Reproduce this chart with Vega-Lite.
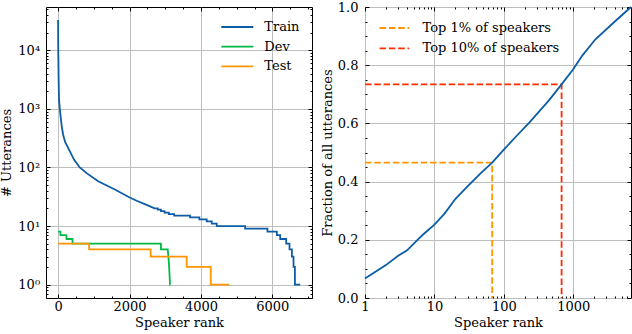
{
  "$schema": "https://vega.github.io/schema/vega-lite/v6.json",
  "background": "white",
  "padding": {"left": 0, "top": 0, "right": 0, "bottom": 0},
  "bounds": "flush",
  "spacing": 53,
  "resolve": {"scale": {"color": "independent"}, "legend": {"color": "independent"}},
  "datasets": {
    "counts": [
      {"set": "Train", "rank": 1, "count": 33000},
      {"set": "Train", "rank": 2, "count": 24000},
      {"set": "Train", "rank": 3, "count": 15000},
      {"set": "Train", "rank": 4, "count": 12500},
      {"set": "Train", "rank": 5, "count": 10500},
      {"set": "Train", "rank": 7, "count": 8000},
      {"set": "Train", "rank": 10, "count": 6000},
      {"set": "Train", "rank": 15, "count": 3500},
      {"set": "Train", "rank": 20, "count": 2200},
      {"set": "Train", "rank": 28, "count": 1400},
      {"set": "Train", "rank": 48, "count": 1000},
      {"set": "Train", "rank": 76, "count": 700},
      {"set": "Train", "rank": 100, "count": 520},
      {"set": "Train", "rank": 140, "count": 366},
      {"set": "Train", "rank": 200, "count": 270},
      {"set": "Train", "rank": 328, "count": 190},
      {"set": "Train", "rank": 450, "count": 135},
      {"set": "Train", "rank": 608, "count": 100},
      {"set": "Train", "rank": 800, "count": 80},
      {"set": "Train", "rank": 1122, "count": 58},
      {"set": "Train", "rank": 1590, "count": 42},
      {"set": "Train", "rank": 1992, "count": 31},
      {"set": "Train", "rank": 2200, "count": 27},
      {"set": "Train", "rank": 2480, "count": 23},
      {"set": "Train", "rank": 2700, "count": 20},
      {"set": "Train", "rank": 2790, "count": 20},
      {"set": "Train", "rank": 2791, "count": 19},
      {"set": "Train", "rank": 2880, "count": 19},
      {"set": "Train", "rank": 2881, "count": 18},
      {"set": "Train", "rank": 2980, "count": 18},
      {"set": "Train", "rank": 2981, "count": 17},
      {"set": "Train", "rank": 3100, "count": 17},
      {"set": "Train", "rank": 3101, "count": 16},
      {"set": "Train", "rank": 3250, "count": 16},
      {"set": "Train", "rank": 3251, "count": 15},
      {"set": "Train", "rank": 3694, "count": 15},
      {"set": "Train", "rank": 3695, "count": 14},
      {"set": "Train", "rank": 3955, "count": 14},
      {"set": "Train", "rank": 3956, "count": 13},
      {"set": "Train", "rank": 4162, "count": 13},
      {"set": "Train", "rank": 4163, "count": 12},
      {"set": "Train", "rank": 4303, "count": 12},
      {"set": "Train", "rank": 4304, "count": 11},
      {"set": "Train", "rank": 4443, "count": 11},
      {"set": "Train", "rank": 4444, "count": 10},
      {"set": "Train", "rank": 5237, "count": 10},
      {"set": "Train", "rank": 5238, "count": 9},
      {"set": "Train", "rank": 5862, "count": 9},
      {"set": "Train", "rank": 5863, "count": 8},
      {"set": "Train", "rank": 6126, "count": 8},
      {"set": "Train", "rank": 6127, "count": 7},
      {"set": "Train", "rank": 6219, "count": 7},
      {"set": "Train", "rank": 6220, "count": 6},
      {"set": "Train", "rank": 6387, "count": 6},
      {"set": "Train", "rank": 6388, "count": 5},
      {"set": "Train", "rank": 6480, "count": 5},
      {"set": "Train", "rank": 6481, "count": 4},
      {"set": "Train", "rank": 6547, "count": 4},
      {"set": "Train", "rank": 6548, "count": 3},
      {"set": "Train", "rank": 6592, "count": 3},
      {"set": "Train", "rank": 6593, "count": 2},
      {"set": "Train", "rank": 6631, "count": 2},
      {"set": "Train", "rank": 6632, "count": 1},
      {"set": "Train", "rank": 6780, "count": 1},
      {"set": "Dev", "rank": 1, "count": 8},
      {"set": "Dev", "rank": 67, "count": 8},
      {"set": "Dev", "rank": 68, "count": 7},
      {"set": "Dev", "rank": 235, "count": 7},
      {"set": "Dev", "rank": 236, "count": 6},
      {"set": "Dev", "rank": 404, "count": 6},
      {"set": "Dev", "rank": 405, "count": 5},
      {"set": "Dev", "rank": 2880, "count": 5},
      {"set": "Dev", "rank": 2881, "count": 4},
      {"set": "Dev", "rank": 3070, "count": 4},
      {"set": "Dev", "rank": 3090, "count": 3},
      {"set": "Dev", "rank": 3110, "count": 2},
      {"set": "Dev", "rank": 3135, "count": 1},
      {"set": "Dev", "rank": 3143, "count": 1},
      {"set": "Test", "rank": 1, "count": 5},
      {"set": "Test", "rank": 870, "count": 5},
      {"set": "Test", "rank": 871, "count": 4},
      {"set": "Test", "rank": 2592, "count": 4},
      {"set": "Test", "rank": 2593, "count": 3},
      {"set": "Test", "rank": 3601, "count": 3},
      {"set": "Test", "rank": 3602, "count": 2},
      {"set": "Test", "rank": 4275, "count": 2},
      {"set": "Test", "rank": 4276, "count": 1},
      {"set": "Test", "rank": 4797, "count": 1}
    ],
    "cumulative": [
      {"rank": 1, "frac": 0.067},
      {"rank": 2, "frac": 0.113},
      {"rank": 3, "frac": 0.145},
      {"rank": 4, "frac": 0.163},
      {"rank": 5, "frac": 0.186},
      {"rank": 6, "frac": 0.205},
      {"rank": 7, "frac": 0.220},
      {"rank": 8, "frac": 0.232},
      {"rank": 10, "frac": 0.252},
      {"rank": 14, "frac": 0.290},
      {"rank": 20, "frac": 0.340},
      {"rank": 30, "frac": 0.384},
      {"rank": 47, "frac": 0.430},
      {"rank": 68, "frac": 0.465},
      {"rank": 100, "frac": 0.510},
      {"rank": 150, "frac": 0.555},
      {"rank": 231, "frac": 0.602},
      {"rank": 450, "frac": 0.680},
      {"rank": 680, "frac": 0.734},
      {"rank": 1000, "frac": 0.786},
      {"rank": 1350, "frac": 0.833},
      {"rank": 2090, "frac": 0.889},
      {"rank": 4050, "frac": 0.952},
      {"rank": 6800, "frac": 1.0}
    ],
    "marks": [
      {"line": "Top 1% of speakers", "o": 1, "rank": 1, "frac": 0.465},
      {"line": "Top 1% of speakers", "o": 2, "rank": 68, "frac": 0.465},
      {"line": "Top 1% of speakers", "o": 3, "rank": 68, "frac": 0},
      {"line": "Top 10% of speakers", "o": 1, "rank": 1, "frac": 0.734},
      {"line": "Top 10% of speakers", "o": 2, "rank": 680, "frac": 0.734},
      {"line": "Top 10% of speakers", "o": 3, "rank": 680, "frac": 0}
    ],
    "anchorL": [{"rank": 1000, "count": 10}],
    "anchorR": [{"rank": 100, "frac": 0.5}]
  },
  "hconcat": [
    {
      "width": 266, "height": 291,
      "view": {"stroke": "black", "strokeWidth": 1},
      "resolve": {"axis": {"x": "independent", "y": "independent"}},
      "layer": [
        {
          "data": {"name": "counts"},
          "mark": {"type": "line", "strokeWidth": 1.8},
          "encoding": {
            "x": {"field": "rank", "type": "quantitative",
              "scale": {"domain": [-338, 7110], "nice": false, "zero": false},
              "axis": {"orient": "bottom", "values": [0, 2000, 4000, 6000], "format": "d", "grid": true, "gridColor": "#bdbdbd", "gridWidth": 1, "domain": false, "tickColor": "black", "tickWidth": 1, "tickSize": -4, "labelPadding": 6, "labelFlush": false, "labelOverlap": false, "labelFont": "DejaVu Serif", "labelFontSize": 13, "labelColor": "black", "title": "Speaker rank", "titleFont": "DejaVu Serif", "titleFontSize": 13, "titleFontWeight": "normal", "titleColor": "black", "titlePadding": 3}},
            "y": {"field": "count", "type": "quantitative",
              "scale": {"type": "log", "domain": [0.59, 55000], "nice": false},
              "axis": {"orient": "left", "values": [1, 10, 100, 1000, 10000], "grid": true, "gridColor": "#bdbdbd", "gridWidth": 1, "domain": false, "tickColor": "black", "tickWidth": 1, "tickSize": -4, "labelPadding": 10.4, "labelFlush": false, "labelOverlap": false, "labelFont": "DejaVu Serif", "labelFontSize": 13, "labelColor": "black",
                "labelExpr": "'10' + ['⁰','¹','²','³','⁴'][round(log(datum.value)/LN10)]", "title": "# Utterances", "titleFont": "DejaVu Serif", "titleFontSize": 13, "titleFontWeight": "normal", "titleColor": "black", "titlePadding": 4}},
            "color": {"field": "set", "type": "nominal",
              "scale": {"domain": ["Train", "Dev", "Test"], "range": ["#0C5DA5", "#00B945", "#FF9500"]},
              "legend": {"title": null, "orient": "none", "legendX": 180.3, "legendY": 9, "padding": 0, "symbolType": "M-1.6,0L1.6,0", "symbolSize": 400, "symbolStrokeWidth": 1.8, "labelOffset": 16, "rowPadding": 1.7, "labelFont": "DejaVu Serif", "labelFontSize": 13, "labelColor": "black"}}
          }
        },
        {
          "data": {"name": "anchorL"},
          "mark": {"type": "point", "opacity": 0},
          "encoding": {
            "x": {"field": "rank", "type": "quantitative", "scale": {"domain": [-338, 7110], "nice": false, "zero": false},
              "axis": {"orient": "bottom", "values": [500, 1000, 1500, 2500, 3000, 3500, 4500, 5000, 5500, 6500, 7000], "domain": false, "grid": false, "labels": false, "tickColor": "black", "tickWidth": 1, "tickSize": -2, "title": null}},
            "y": {"field": "count", "type": "quantitative", "scale": {"type": "log", "domain": [0.59, 55000], "nice": false},
              "axis": {"orient": "left", "values": [0.6, 0.7, 0.8, 0.9, 2, 3, 4, 5, 6, 7, 8, 9, 20, 30, 40, 50, 60, 70, 80, 90, 200, 300, 400, 500, 600, 700, 800, 900, 2000, 3000, 4000, 5000, 6000, 7000, 8000, 9000, 20000, 30000, 40000, 50000], "domain": false, "grid": false, "labels": false, "tickColor": "black", "tickWidth": 1, "tickSize": -2, "title": null}}
          }
        },
        {
          "data": {"name": "anchorL"},
          "mark": {"type": "point", "opacity": 0},
          "encoding": {
            "x": {"field": "rank", "type": "quantitative", "scale": {"domain": [-338, 7110], "nice": false, "zero": false},
              "axis": {"orient": "top", "values": [0, 2000, 4000, 6000], "domain": false, "grid": false, "labels": false, "tickColor": "black", "tickWidth": 1, "tickSize": -4, "title": null}},
            "y": {"field": "count", "type": "quantitative", "scale": {"type": "log", "domain": [0.59, 55000], "nice": false},
              "axis": {"orient": "right", "values": [1, 10, 100, 1000, 10000], "domain": false, "grid": false, "labels": false, "tickColor": "black", "tickWidth": 1, "tickSize": -4, "title": null}}
          }
        },
        {
          "data": {"name": "anchorL"},
          "mark": {"type": "point", "opacity": 0},
          "encoding": {
            "x": {"field": "rank", "type": "quantitative", "scale": {"domain": [-338, 7110], "nice": false, "zero": false},
              "axis": {"orient": "top", "values": [500, 1000, 1500, 2500, 3000, 3500, 4500, 5000, 5500, 6500, 7000], "domain": false, "grid": false, "labels": false, "tickColor": "black", "tickWidth": 1, "tickSize": -2, "title": null}},
            "y": {"field": "count", "type": "quantitative", "scale": {"type": "log", "domain": [0.59, 55000], "nice": false},
              "axis": {"orient": "right", "values": [0.6, 0.7, 0.8, 0.9, 2, 3, 4, 5, 6, 7, 8, 9, 20, 30, 40, 50, 60, 70, 80, 90, 200, 300, 400, 500, 600, 700, 800, 900, 2000, 3000, 4000, 5000, 6000, 7000, 8000, 9000, 20000, 30000, 40000, 50000], "domain": false, "grid": false, "labels": false, "tickColor": "black", "tickWidth": 1, "tickSize": -2, "title": null}}
          }
        }
      ]
    },
    {
      "width": 266, "height": 291,
      "view": {"stroke": "black", "strokeWidth": 1},
      "resolve": {"axis": {"x": "independent", "y": "independent"}},
      "layer": [
        {
          "data": {"name": "marks"},
          "mark": {"type": "line", "strokeWidth": 1.8, "strokeDash": [6.5, 2.8]},
          "encoding": {
            "x": {"field": "rank", "type": "quantitative",
              "scale": {"type": "log", "domain": [1, 6800], "nice": false},
              "axis": {"orient": "bottom", "values": [1, 10, 100, 1000], "format": "d", "grid": true, "gridColor": "#bdbdbd", "gridWidth": 1, "domain": false, "tickColor": "black", "tickWidth": 1, "tickSize": -4, "labelPadding": 6, "labelFlush": false, "labelOverlap": false, "labelFont": "DejaVu Serif", "labelFontSize": 13, "labelColor": "black", "title": "Speaker rank", "titleFont": "DejaVu Serif", "titleFontSize": 13, "titleFontWeight": "normal", "titleColor": "black", "titlePadding": 3}},
            "y": {"field": "frac", "type": "quantitative",
              "scale": {"domain": [0, 1], "nice": false, "zero": false},
              "axis": {"orient": "left", "values": [0, 0.2, 0.4, 0.6, 0.8, 1.0], "format": ".1f", "grid": true, "gridColor": "#bdbdbd", "gridWidth": 1, "domain": false, "tickColor": "black", "tickWidth": 1, "tickSize": -4, "labelPadding": 11, "labelFlush": false, "labelOverlap": false, "labelFont": "DejaVu Serif", "labelFontSize": 13, "labelColor": "black", "title": "Fraction of all utterances", "titleFont": "DejaVu Serif", "titleFontSize": 13, "titleFontWeight": "normal", "titleColor": "black", "titlePadding": 3}},
            "color": {"field": "line", "type": "nominal",
              "scale": {"domain": ["Top 1% of speakers", "Top 10% of speakers"], "range": ["#FF9500", "#FF2C00"]},
              "legend": {"title": null, "orient": "none", "legendX": 18.3, "legendY": 10, "padding": 0, "symbolType": "M-1.47,0L1.47,0", "symbolSize": 400, "symbolStrokeWidth": 1.8, "symbolDash": [6.5, 2.8], "labelOffset": 17.3, "rowPadding": 2.3, "labelFont": "DejaVu Serif", "labelFontSize": 13, "labelColor": "black"}},
            "order": {"field": "o", "type": "quantitative"}
          }
        },
        {
          "data": {"name": "cumulative"},
          "mark": {"type": "line", "strokeWidth": 1.8, "color": "#0C5DA5"},
          "encoding": {
            "x": {"field": "rank", "type": "quantitative", "scale": {"type": "log", "domain": [1, 6800], "nice": false},
              "axis": {"orient": "bottom", "values": [2, 3, 4, 5, 6, 7, 8, 9, 20, 30, 40, 50, 60, 70, 80, 90, 200, 300, 400, 500, 600, 700, 800, 900, 2000, 3000, 4000, 5000, 6000], "domain": false, "grid": false, "labels": false, "tickColor": "black", "tickWidth": 1, "tickSize": -2, "title": null}},
            "y": {"field": "frac", "type": "quantitative", "scale": {"domain": [0, 1], "nice": false, "zero": false},
              "axis": {"orient": "left", "values": [0.05, 0.1, 0.15, 0.25, 0.3, 0.35, 0.45, 0.5, 0.55, 0.65, 0.7, 0.75, 0.85, 0.9, 0.95], "domain": false, "grid": false, "labels": false, "tickColor": "black", "tickWidth": 1, "tickSize": -2, "title": null}}
          }
        },
        {
          "data": {"name": "anchorR"},
          "mark": {"type": "point", "opacity": 0},
          "encoding": {
            "x": {"field": "rank", "type": "quantitative", "scale": {"type": "log", "domain": [1, 6800], "nice": false},
              "axis": {"orient": "top", "values": [1, 10, 100, 1000], "domain": false, "grid": false, "labels": false, "tickColor": "black", "tickWidth": 1, "tickSize": -4, "title": null}},
            "y": {"field": "frac", "type": "quantitative", "scale": {"domain": [0, 1], "nice": false, "zero": false},
              "axis": {"orient": "right", "values": [0, 0.2, 0.4, 0.6, 0.8, 1.0], "domain": false, "grid": false, "labels": false, "tickColor": "black", "tickWidth": 1, "tickSize": -4, "title": null}}
          }
        },
        {
          "data": {"name": "anchorR"},
          "mark": {"type": "point", "opacity": 0},
          "encoding": {
            "x": {"field": "rank", "type": "quantitative", "scale": {"type": "log", "domain": [1, 6800], "nice": false},
              "axis": {"orient": "top", "values": [2, 3, 4, 5, 6, 7, 8, 9, 20, 30, 40, 50, 60, 70, 80, 90, 200, 300, 400, 500, 600, 700, 800, 900, 2000, 3000, 4000, 5000, 6000], "domain": false, "grid": false, "labels": false, "tickColor": "black", "tickWidth": 1, "tickSize": -2, "title": null}},
            "y": {"field": "frac", "type": "quantitative", "scale": {"domain": [0, 1], "nice": false, "zero": false},
              "axis": {"orient": "right", "values": [0.05, 0.1, 0.15, 0.25, 0.3, 0.35, 0.45, 0.5, 0.55, 0.65, 0.7, 0.75, 0.85, 0.9, 0.95], "domain": false, "grid": false, "labels": false, "tickColor": "black", "tickWidth": 1, "tickSize": -2, "title": null}}
          }
        }
      ]
    }
  ]
}
